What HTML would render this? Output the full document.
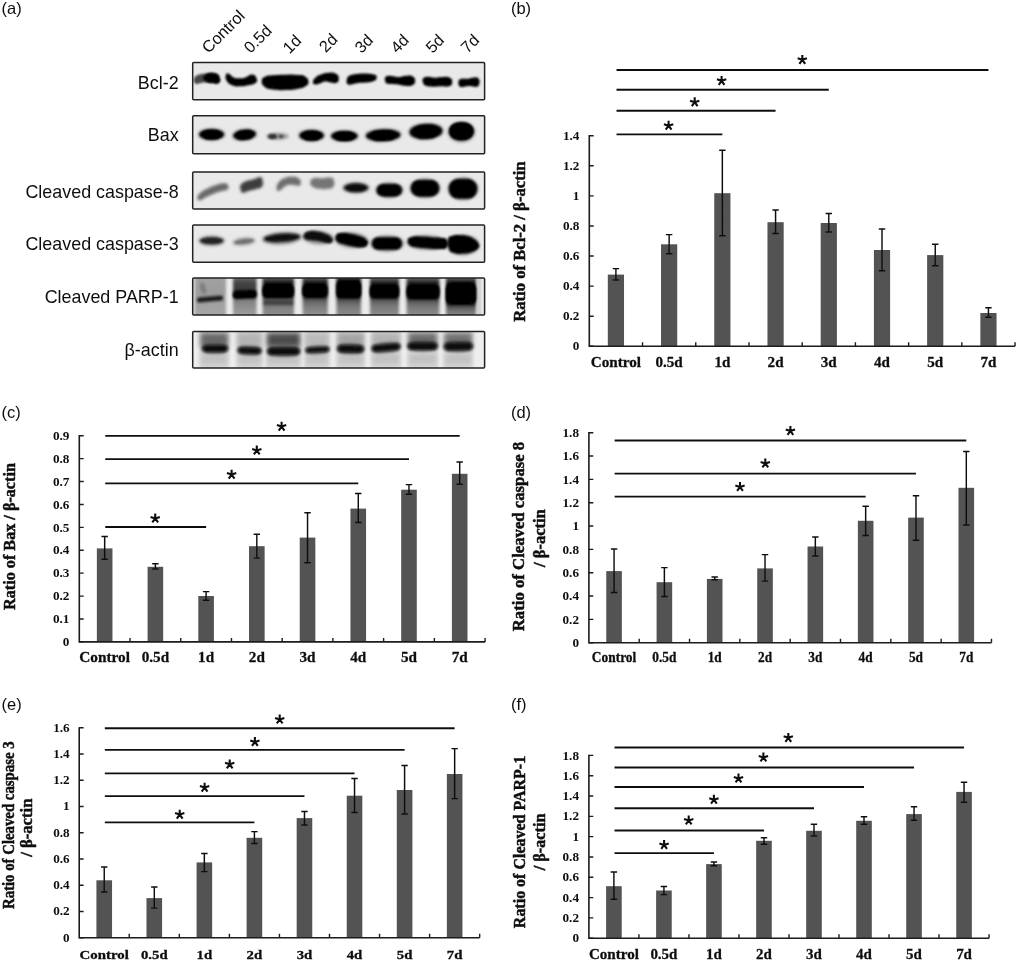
<!DOCTYPE html>
<html><head><meta charset="utf-8"><title>Figure</title>
<style>
html,body{margin:0;padding:0;background:#fff;}
body{width:1018px;height:962px;overflow:hidden;font-family:"Liberation Sans",sans-serif;}
svg{display:block;}
text{fill:#111;}
</style></head><body>
<svg width="1018" height="962" viewBox="0 0 1018 962">
<defs>
<filter id="b1" x="-30%" y="-60%" width="160%" height="220%"><feGaussianBlur stdDeviation="1.1"/></filter>
<filter id="b15" x="-30%" y="-60%" width="160%" height="220%"><feGaussianBlur stdDeviation="1.45"/></filter>
<filter id="b0" x="-30%" y="-60%" width="160%" height="220%"><feGaussianBlur stdDeviation="0.8"/></filter>
<filter id="b2" x="-30%" y="-60%" width="160%" height="220%"><feGaussianBlur stdDeviation="1.8"/></filter>
<filter id="b3" x="-30%" y="-60%" width="160%" height="220%"><feGaussianBlur stdDeviation="2.6"/></filter>
</defs>
<filter id="soft" x="0" y="0" width="100%" height="100%" filterUnits="userSpaceOnUse"><feGaussianBlur stdDeviation="0.4"/></filter>
<rect width="1018" height="962" fill="#fff"/>
<g filter="url(#soft)">

<text x="1.6" y="14.2" font-family="Liberation Sans, sans-serif" font-size="16.5">(a)</text>
<text x="510.9" y="14.2" font-family="Liberation Sans, sans-serif" font-size="16.5">(b)</text>
<text x="1.6" y="418.2" font-family="Liberation Sans, sans-serif" font-size="16.5">(c)</text>
<text x="510.9" y="418.2" font-family="Liberation Sans, sans-serif" font-size="16.5">(d)</text>
<text x="1.6" y="710.4" font-family="Liberation Sans, sans-serif" font-size="16.5">(e)</text>
<text x="510.9" y="710.4" font-family="Liberation Sans, sans-serif" font-size="16.5">(f)</text>
<text x="178.6" y="88.6" text-anchor="end" font-family="Liberation Sans, sans-serif" font-size="17.9">Bcl-2</text>
<text x="178.6" y="140.7" text-anchor="end" font-family="Liberation Sans, sans-serif" font-size="17.9">Bax</text>
<text x="178.6" y="197.6" text-anchor="end" font-family="Liberation Sans, sans-serif" font-size="17.9">Cleaved caspase-8</text>
<text x="178.6" y="249.8" text-anchor="end" font-family="Liberation Sans, sans-serif" font-size="17.9">Cleaved caspase-3</text>
<text x="178.6" y="303.0" text-anchor="end" font-family="Liberation Sans, sans-serif" font-size="17.9">Cleaved PARP-1</text>
<text x="178.6" y="355.9" text-anchor="end" font-family="Liberation Sans, sans-serif" font-size="17.9">β-actin</text>
<text transform="translate(208.6 54.0) rotate(-45)" font-family="Liberation Sans, sans-serif" font-size="16.3">Control</text>
<text transform="translate(250.4 54.0) rotate(-45)" font-family="Liberation Sans, sans-serif" font-size="16.3">0.5d</text>
<text transform="translate(289.6 54.4) rotate(-45)" font-family="Liberation Sans, sans-serif" font-size="16.3">1d</text>
<text transform="translate(325.8 53.2) rotate(-45)" font-family="Liberation Sans, sans-serif" font-size="16.3">2d</text>
<text transform="translate(361.4 53.9) rotate(-45)" font-family="Liberation Sans, sans-serif" font-size="16.3">3d</text>
<text transform="translate(397.2 53.9) rotate(-45)" font-family="Liberation Sans, sans-serif" font-size="16.3">4d</text>
<text transform="translate(432.4 53.9) rotate(-45)" font-family="Liberation Sans, sans-serif" font-size="16.3">5d</text>
<text transform="translate(467.5 53.9) rotate(-45)" font-family="Liberation Sans, sans-serif" font-size="16.3">7d</text>
<rect x="192.7" y="62.6" width="291.90" height="37.20" fill="#e9e9e9"/>
<clipPath id="cp0"><rect x="192.7" y="62.6" width="291.90" height="37.20"/></clipPath><g clip-path="url(#cp0)">
<path d="M195.00 78.40C196.17 75.93 195.83 76.73 199.50 75.40C203.17 74.07 200.97 74.87 206.00 74.40C211.03 73.93 210.47 72.93 214.60 74.00C218.73 75.07 217.27 74.87 218.40 77.60C219.53 80.33 219.63 80.73 218.00 82.20C216.37 83.67 217.00 82.27 213.50 82.00C210.00 81.73 211.73 81.40 207.50 81.40C203.27 81.40 204.63 81.53 200.80 82.00C196.97 82.47 197.93 84.00 196.00 82.80C194.07 81.60 193.83 80.87 195.00 78.40Z" fill="#3c3c3c" stroke="#3c3c3c" stroke-width="1.8" stroke-linejoin="round" opacity="0.95" filter="url(#b1)"/>
<path d="M205.50 75.60C208.20 73.43 210.33 73.63 214.60 74.30C218.87 74.97 217.17 75.03 218.30 77.60C219.43 80.17 219.60 80.53 218.00 82.00C216.40 83.47 217.33 82.40 213.50 82.00C209.67 81.60 209.17 82.93 206.50 80.80C203.83 78.67 202.80 77.77 205.50 75.60Z" fill="#000" stroke="#000" stroke-width="1.8" stroke-linejoin="round" opacity="1" filter="url(#b1)"/>
<path d="M226.60 76.00C226.93 74.00 226.53 73.93 228.60 74.60C230.67 75.27 229.33 76.47 232.80 78.00C236.27 79.53 234.60 79.13 239.00 79.20C243.40 79.27 241.67 79.50 246.00 78.20C250.33 76.90 248.80 75.17 252.00 75.30C255.20 75.43 254.73 76.17 255.60 78.60C256.47 81.03 257.13 80.67 254.60 82.60C252.07 84.53 252.87 83.47 248.00 84.40C243.13 85.33 245.17 85.40 240.00 85.40C234.83 85.40 236.63 86.00 232.50 84.40C228.37 82.80 229.57 83.40 227.60 80.60C225.63 77.80 226.27 78.00 226.60 76.00Z" fill="#000" stroke="#000" stroke-width="1.8" stroke-linejoin="round" opacity="1" filter="url(#b0)"/>
<path d="M262.60 81.00C262.57 78.07 262.37 79.20 265.50 77.60C268.63 76.00 265.50 76.87 272.00 76.20C278.50 75.53 276.33 75.73 285.00 75.60C293.67 75.47 291.47 75.27 298.00 75.80C304.53 76.33 301.40 75.33 304.60 77.20C307.80 79.07 307.47 78.60 307.60 81.40C307.73 84.20 308.53 83.40 305.00 85.60C301.47 87.80 303.67 86.80 297.00 88.00C290.33 89.20 293.00 89.00 285.00 89.20C277.00 89.40 279.47 89.53 273.00 88.60C266.53 87.67 269.07 88.93 265.60 86.40C262.13 83.87 262.63 83.93 262.60 81.00Z" fill="#000" stroke="#000" stroke-width="1.8" stroke-linejoin="round" opacity="1" filter="url(#b0)"/>
<path d="M314.00 81.40C314.33 79.73 313.67 80.40 316.00 78.40C318.33 76.40 316.67 77.00 321.00 75.40C325.33 73.80 324.00 73.80 329.00 73.60C334.00 73.40 333.07 73.13 336.00 74.80C338.93 76.47 337.67 76.20 337.80 78.60C337.93 81.00 338.67 81.00 336.40 82.00C334.13 83.00 334.80 82.07 331.00 81.60C327.20 81.13 328.83 80.27 325.00 80.60C321.17 80.93 322.83 81.67 319.50 82.60C316.17 83.53 316.83 83.80 315.00 83.40C313.17 83.00 313.67 83.07 314.00 81.40Z" fill="#000" stroke="#000" stroke-width="1.8" stroke-linejoin="round" opacity="1" filter="url(#b0)"/>
<path d="M347.60 80.40C348.13 78.20 346.80 78.40 349.60 76.60C352.40 74.80 351.20 75.73 356.00 75.00C360.80 74.27 358.33 74.33 364.00 74.40C369.67 74.47 369.13 74.27 373.00 75.20C376.87 76.13 375.40 75.53 375.60 77.20C375.80 78.87 376.80 78.73 373.60 80.20C370.40 81.67 371.20 81.00 366.00 81.60C360.80 82.20 363.00 81.33 358.00 82.00C353.00 82.67 354.33 83.20 351.00 83.60C347.67 84.00 349.13 84.27 348.00 83.20C346.87 82.13 347.07 82.60 347.60 80.40Z" fill="#000" stroke="#000" stroke-width="1.8" stroke-linejoin="round" opacity="1" filter="url(#b0)"/>
<path d="M386.00 77.80C387.27 76.47 386.00 76.60 390.00 76.60C394.00 76.60 392.67 77.80 398.00 77.80C403.33 77.80 401.33 76.87 406.00 76.60C410.67 76.33 409.27 75.67 412.00 77.00C414.73 78.33 414.20 78.13 414.20 80.60C414.20 83.07 415.07 83.00 412.00 84.40C408.93 85.80 410.33 85.13 405.00 84.80C399.67 84.47 401.67 84.07 396.00 83.40C390.33 82.73 391.27 83.73 388.00 82.80C384.73 81.87 386.87 82.27 386.20 80.60C385.53 78.93 384.73 79.13 386.00 77.80Z" fill="#000" stroke="#000" stroke-width="1.8" stroke-linejoin="round" opacity="1" filter="url(#b0)"/>
<path d="M423.60 79.40C424.60 77.80 423.20 77.87 427.00 77.60C430.80 77.33 429.67 78.53 435.00 78.60C440.33 78.67 438.13 77.80 443.00 77.80C447.87 77.80 446.87 77.20 449.60 78.60C452.33 80.00 451.40 79.73 451.20 82.00C451.00 84.27 452.40 84.27 449.00 85.40C445.60 86.53 446.33 85.27 441.00 85.40C435.67 85.53 438.00 86.00 433.00 85.80C428.00 85.60 429.00 85.93 426.00 84.80C423.00 83.67 424.80 84.20 424.00 82.40C423.20 80.60 422.60 81.00 423.60 79.40Z" fill="#000" stroke="#000" stroke-width="1.8" stroke-linejoin="round" opacity="1" filter="url(#b0)"/>
<path d="M459.40 81.40C460.07 79.40 459.13 80.20 462.00 79.60C464.87 79.00 464.00 80.00 468.00 79.60C472.00 79.20 470.67 78.47 474.00 78.40C477.33 78.33 476.53 77.67 478.00 79.40C479.47 81.13 479.07 81.40 478.40 83.60C477.73 85.80 478.80 85.53 476.00 86.00C473.20 86.47 474.00 85.07 470.00 85.00C466.00 84.93 467.33 85.60 464.00 85.80C460.67 86.00 461.53 87.07 460.00 85.60C458.47 84.13 458.73 83.40 459.40 81.40Z" fill="#000" stroke="#000" stroke-width="1.8" stroke-linejoin="round" opacity="1" filter="url(#b0)"/>
</g>
<rect x="192.7" y="62.6" width="291.90" height="37.20" fill="none" stroke="#222" stroke-width="1.5" rx="1"/>
<rect x="192.7" y="115.7" width="291.90" height="38.10" fill="#e9e9e9"/>
<clipPath id="cp1"><rect x="192.7" y="115.7" width="291.90" height="38.10"/></clipPath><g clip-path="url(#cp1)">
<ellipse cx="211.6" cy="134.4" rx="13.75" ry="6.50" fill="#555" opacity="0.55" filter="url(#b15)" transform="rotate(0 211.6 134.4)"/>
<ellipse cx="211.6" cy="134.4" rx="12.25" ry="5.25" fill="#000" opacity="1" filter="url(#b0)" transform="rotate(0 211.6 134.4)"/>
<rect x="203.03" y="130.60" width="17.15" height="8.4" rx="4.20" fill="#000" opacity="1" filter="url(#b0)" transform="rotate(0 211.6 134.8)"/>
<ellipse cx="244.6" cy="134.8" rx="12.75" ry="6.25" fill="#555" opacity="0.55" filter="url(#b15)" transform="rotate(-6 244.6 134.8)"/>
<ellipse cx="244.6" cy="134.8" rx="11.25" ry="5.00" fill="#000" opacity="1" filter="url(#b0)" transform="rotate(-6 244.6 134.8)"/>
<rect x="236.72" y="131.20" width="15.749999999999998" height="8.0" rx="4.00" fill="#000" opacity="1" filter="url(#b0)" transform="rotate(-6 244.6 135.20000000000002)"/>
<ellipse cx="277.5" cy="136.2" rx="11.50" ry="3.50" fill="#666" opacity="0.6" filter="url(#b15)" transform="rotate(0 277.5 136.2)"/>
<ellipse cx="272.5" cy="136.6" rx="4.50" ry="2.50" fill="#222" opacity="0.9" filter="url(#b0)" transform="rotate(0 272.5 136.6)"/>
<ellipse cx="281.0" cy="136.4" rx="2.50" ry="1.75" fill="#333" opacity="0.8" filter="url(#b0)" transform="rotate(0 281.0 136.4)"/>
<ellipse cx="311.6" cy="135.4" rx="13.50" ry="6.50" fill="#555" opacity="0.55" filter="url(#b15)" transform="rotate(0 311.6 135.4)"/>
<ellipse cx="311.6" cy="135.4" rx="12.00" ry="5.25" fill="#000" opacity="1" filter="url(#b0)" transform="rotate(0 311.6 135.4)"/>
<rect x="303.20" y="131.60" width="16.799999999999997" height="8.4" rx="4.20" fill="#000" opacity="1" filter="url(#b0)" transform="rotate(0 311.6 135.8)"/>
<ellipse cx="344.4" cy="136.0" rx="14.50" ry="6.25" fill="#555" opacity="0.55" filter="url(#b15)" transform="rotate(0 344.4 136.0)"/>
<ellipse cx="344.4" cy="136.0" rx="13.00" ry="5.00" fill="#000" opacity="1" filter="url(#b0)" transform="rotate(0 344.4 136.0)"/>
<rect x="335.30" y="132.40" width="18.2" height="8.0" rx="4.00" fill="#000" opacity="1" filter="url(#b0)" transform="rotate(0 344.4 136.4)"/>
<ellipse cx="383.2" cy="135.2" rx="18.50" ry="7.00" fill="#555" opacity="0.55" filter="url(#b15)" transform="rotate(-2 383.2 135.2)"/>
<ellipse cx="383.2" cy="135.2" rx="17.00" ry="5.75" fill="#000" opacity="1" filter="url(#b0)" transform="rotate(-2 383.2 135.2)"/>
<rect x="371.30" y="131.00" width="23.799999999999997" height="9.200000000000001" rx="4.60" fill="#000" opacity="1" filter="url(#b0)" transform="rotate(-2 383.2 135.6)"/>
<ellipse cx="426.0" cy="131.4" rx="17.75" ry="8.75" fill="#555" opacity="0.55" filter="url(#b15)" transform="rotate(-3 426.0 131.4)"/>
<ellipse cx="426.0" cy="131.4" rx="16.25" ry="7.50" fill="#000" opacity="1" filter="url(#b0)" transform="rotate(-3 426.0 131.4)"/>
<rect x="414.62" y="125.80" width="22.75" height="12.0" rx="6.00" fill="#000" opacity="1" filter="url(#b0)" transform="rotate(-3 426.0 131.8)"/>
<ellipse cx="461.4" cy="132.0" rx="14.00" ry="10.50" fill="#555" opacity="0.5" filter="url(#b15)" transform="rotate(0 461.4 132.0)"/>
<ellipse cx="461.4" cy="131.2" rx="12.50" ry="9.25" fill="#000" opacity="1" filter="url(#b0)" transform="rotate(0 461.4 131.2)"/>
<rect x="450.40" y="123.20" width="22" height="16" rx="7.00" fill="#000" opacity="1" filter="url(#b0)" transform="rotate(0 461.4 131.2)"/>
</g>
<rect x="192.7" y="115.7" width="291.90" height="38.10" fill="none" stroke="#222" stroke-width="1.5" rx="1"/>
<rect x="192.7" y="172.0" width="291.90" height="36.90" fill="#e9e9e9"/>
<clipPath id="cp2"><rect x="192.7" y="172.0" width="291.90" height="36.90"/></clipPath><g clip-path="url(#cp2)">
<path d="M197.80 197.40C198.13 194.93 197.60 195.60 201.00 192.60C204.40 189.60 203.00 190.87 208.00 188.40C213.00 185.93 210.67 186.80 216.00 185.20C221.33 183.60 220.13 183.60 224.00 183.60C227.87 183.60 226.47 183.33 227.60 185.20C228.73 187.07 229.27 187.33 227.40 189.20C225.53 191.07 226.47 189.40 222.00 190.80C217.53 192.20 219.33 191.33 214.00 193.40C208.67 195.47 210.67 194.80 206.00 197.00C201.33 199.20 202.73 199.87 200.00 200.00C197.27 200.13 197.47 199.87 197.80 197.40Z" fill="#4a4a4a" stroke="#4a4a4a" stroke-width="0.4" stroke-linejoin="round" opacity="0.8" filter="url(#b15)"/>
<path d="M241.00 185.20C242.67 182.53 242.00 183.40 246.00 181.60C250.00 179.80 248.33 181.13 253.00 179.80C257.67 178.47 256.93 177.33 260.00 177.60C263.07 177.87 261.67 177.60 262.20 180.60C262.73 183.60 263.67 183.87 261.60 186.60C259.53 189.33 260.20 187.47 256.00 188.80C251.80 190.13 253.33 189.40 249.00 190.60C244.67 191.80 245.67 192.73 243.00 192.40C240.33 192.07 241.67 192.00 241.00 189.60C240.33 187.20 239.33 187.87 241.00 185.20Z" fill="#2a2a2a" stroke="#2a2a2a" stroke-width="0.6" stroke-linejoin="round" opacity="0.9" filter="url(#b15)"/>
<path d="M277.00 187.00C277.53 184.00 276.93 184.53 279.60 181.60C282.27 178.67 280.87 179.73 285.00 178.20C289.13 176.67 287.53 176.93 292.00 177.00C296.47 177.07 295.60 176.60 298.40 178.40C301.20 180.20 300.33 180.07 300.40 182.40C300.47 184.73 301.40 184.67 298.60 185.40C295.80 186.13 296.20 184.53 292.00 184.60C287.80 184.67 289.47 184.13 286.00 185.60C282.53 187.07 284.27 187.33 281.60 189.00C278.93 190.67 279.53 191.27 278.00 190.60C276.47 189.93 276.47 190.00 277.00 187.00Z" fill="#505050" stroke="#505050" stroke-width="0.6" stroke-linejoin="round" opacity="0.8" filter="url(#b15)"/>
<path d="M310.80 181.60C311.67 179.60 309.87 179.67 313.60 178.60C317.33 177.53 316.20 178.60 322.00 178.40C327.80 178.20 327.13 177.13 331.00 178.00C334.87 178.87 332.93 178.13 333.60 181.00C334.27 183.87 334.87 184.07 333.00 186.60C331.13 189.13 332.33 187.93 328.00 188.60C323.67 189.27 324.80 189.13 320.00 188.60C315.20 188.07 316.60 188.33 313.60 187.00C310.60 185.67 311.93 186.40 311.00 184.60C310.07 182.80 309.93 183.60 310.80 181.60Z" fill="#585858" stroke="#585858" stroke-width="0.6" stroke-linejoin="round" opacity="0.8" filter="url(#b15)"/>
<ellipse cx="356.0" cy="187.8" rx="13.50" ry="5.75" fill="#444" opacity="0.7" filter="url(#b15)" transform="rotate(0 356.0 187.8)"/>
<ellipse cx="356.0" cy="187.8" rx="11.50" ry="4.00" fill="#0c0c0c" opacity="1" filter="url(#b1)" transform="rotate(0 356.0 187.8)"/>
<ellipse cx="389.3" cy="190.2" rx="14.00" ry="8.00" fill="#444" opacity="0.6" filter="url(#b15)" transform="rotate(0 389.3 190.2)"/>
<rect x="376.80" y="183.95" width="25" height="12.5" rx="6.25" fill="#000" opacity="1" filter="url(#b1)" transform="rotate(0 389.3 190.2)"/>
<ellipse cx="425.0" cy="188.2" rx="15.50" ry="10.00" fill="#444" opacity="0.6" filter="url(#b15)" transform="rotate(0 425.0 188.2)"/>
<rect x="411.00" y="179.95" width="28" height="16.5" rx="8.00" fill="#000" opacity="1" filter="url(#b1)" transform="rotate(0 425.0 188.2)"/>
<ellipse cx="463.0" cy="188.8" rx="15.50" ry="11.50" fill="#444" opacity="0.6" filter="url(#b15)" transform="rotate(0 463.0 188.8)"/>
<rect x="449.00" y="179.05" width="28" height="19.5" rx="9.00" fill="#000" opacity="1" filter="url(#b1)" transform="rotate(0 463.0 188.8)"/>
</g>
<rect x="192.7" y="172.0" width="291.90" height="36.90" fill="none" stroke="#222" stroke-width="1.5" rx="1"/>
<rect x="192.7" y="225.0" width="291.90" height="37.20" fill="#e9e9e9"/>
<clipPath id="cp3"><rect x="192.7" y="225.0" width="291.90" height="37.20"/></clipPath><g clip-path="url(#cp3)">
<ellipse cx="211.7" cy="240.8" rx="13.50" ry="5.50" fill="#666" opacity="0.55" filter="url(#b2)" transform="rotate(0 211.7 240.8)"/>
<ellipse cx="244.0" cy="241.6" rx="12.00" ry="4.50" fill="#888" opacity="0.5" filter="url(#b2)" transform="rotate(-6 244.0 241.6)"/>
<ellipse cx="282.0" cy="238.2" rx="20.00" ry="6.50" fill="#555" opacity="0.6" filter="url(#b2)" transform="rotate(-4 282.0 238.2)"/>
<ellipse cx="318.0" cy="237.6" rx="16.00" ry="7.00" fill="#555" opacity="0.6" filter="url(#b2)" transform="rotate(5 318.0 237.6)"/>
<ellipse cx="351.5" cy="240.2" rx="17.00" ry="8.00" fill="#555" opacity="0.6" filter="url(#b2)" transform="rotate(5 351.5 240.2)"/>
<ellipse cx="387.0" cy="243.4" rx="17.00" ry="8.50" fill="#555" opacity="0.55" filter="url(#b2)" transform="rotate(0 387.0 243.4)"/>
<ellipse cx="426.8" cy="242.6" rx="20.50" ry="7.50" fill="#555" opacity="0.55" filter="url(#b2)" transform="rotate(2 426.8 242.6)"/>
<ellipse cx="462.8" cy="245.0" rx="16.50" ry="10.50" fill="#555" opacity="0.5" filter="url(#b2)" transform="rotate(0 462.8 245.0)"/>
<ellipse cx="211.7" cy="240.8" rx="11.75" ry="3.50" fill="#1a1a1a" opacity="0.95" filter="url(#b1)" transform="rotate(0 211.7 240.8)"/>
<ellipse cx="244.0" cy="241.4" rx="10.00" ry="2.50" fill="#555" opacity="0.75" filter="url(#b1)" transform="rotate(-7 244.0 241.4)"/>
<ellipse cx="282.0" cy="237.8" rx="18.00" ry="4.00" fill="#111" opacity="0.97" filter="url(#b1)" transform="rotate(-4 282.0 237.8)"/>
<path d="M305.00 234.60C306.00 232.40 305.33 232.87 309.00 232.00C312.67 231.13 311.00 231.33 316.00 232.00C321.00 232.67 319.13 232.13 324.00 234.00C328.87 235.87 328.07 235.13 330.60 237.60C333.13 240.07 332.47 239.80 331.60 241.40C330.73 243.00 331.87 242.67 328.00 242.40C324.13 242.13 325.33 241.53 320.00 240.60C314.67 239.67 316.67 240.27 312.00 239.60C307.33 238.93 308.33 240.27 306.00 238.60C303.67 236.93 304.00 236.80 305.00 234.60Z" fill="#080808" stroke="#080808" stroke-width="1.2" stroke-linejoin="round" opacity="1" filter="url(#b1)"/>
<path d="M336.60 236.00C337.60 233.40 336.53 234.13 341.00 233.60C345.47 233.07 344.00 233.40 350.00 234.40C356.00 235.40 353.80 234.73 359.00 236.60C364.20 238.47 363.07 237.33 365.60 240.00C368.13 242.67 367.80 242.33 366.60 244.60C365.40 246.87 366.53 246.40 362.00 246.80C357.47 247.20 359.00 246.87 353.00 245.80C347.00 244.73 349.00 245.07 344.00 243.60C339.00 242.13 340.47 243.93 338.00 241.40C335.53 238.87 335.60 238.60 336.60 236.00Z" fill="#040404" stroke="#040404" stroke-width="1.2" stroke-linejoin="round" opacity="1" filter="url(#b1)"/>
<rect x="372.00" y="237.15" width="30" height="12.5" rx="6.00" fill="#000" opacity="1" filter="url(#b1)" transform="rotate(0 387.0 243.4)"/>
<path d="M408.60 240.80C408.93 238.53 407.20 239.07 411.00 237.80C414.80 236.53 413.00 236.93 420.00 237.00C427.00 237.07 424.67 237.47 432.00 238.00C439.33 238.53 437.20 237.73 442.00 238.60C446.80 239.47 445.07 237.80 446.40 240.60C447.73 243.40 448.13 244.40 446.00 247.00C443.87 249.60 446.00 248.13 440.00 248.40C434.00 248.67 436.00 248.40 428.00 247.80C420.00 247.20 422.00 247.67 416.00 246.60C410.00 245.53 412.47 246.53 410.00 244.60C407.53 242.67 408.27 243.07 408.60 240.80Z" fill="#000" stroke="#000" stroke-width="1.2" stroke-linejoin="round" opacity="1" filter="url(#b1)"/>
<path d="M448.60 240.00C449.40 236.00 448.20 238.00 452.00 236.60C455.80 235.20 454.67 235.73 460.00 235.80C465.33 235.87 463.33 235.47 468.00 236.80C472.67 238.13 470.67 237.40 474.00 239.80C477.33 242.20 476.80 241.27 478.00 244.00C479.20 246.73 479.60 245.53 477.60 248.00C475.60 250.47 476.87 249.73 472.00 251.40C467.13 253.07 469.00 252.73 463.00 253.00C457.00 253.27 458.47 253.67 454.00 252.20C449.53 250.73 451.40 252.67 449.60 248.60C447.80 244.53 447.80 244.00 448.60 240.00Z" fill="#000" stroke="#000" stroke-width="1.2" stroke-linejoin="round" opacity="1" filter="url(#b1)"/>
<path d="M447.6 236V252" stroke="#f4f4f4" stroke-width="0.9" opacity="0.85" filter="url(#b0)"/>
</g>
<rect x="192.7" y="225.0" width="291.90" height="37.20" fill="none" stroke="#222" stroke-width="1.5" rx="1"/>
<rect x="192.7" y="278.0" width="291.90" height="36.90" fill="#ebebeb"/>
<clipPath id="cp4"><rect x="192.7" y="278.0" width="291.90" height="36.90"/></clipPath><g clip-path="url(#cp4)">
<linearGradient id="l50" x1="0" y1="0" x2="0" y2="1"><stop offset="0" stop-color="#a2a2a2"/><stop offset="0.5" stop-color="#9c9c9c"/><stop offset="1" stop-color="#a8a8a8"/></linearGradient>
<rect x="194.5" y="274" width="31.5" height="45" fill="url(#l50)" filter="url(#b15)"/>
<ellipse cx="203.0" cy="288.0" rx="2.50" ry="6.00" fill="#555" opacity="0.5" filter="url(#b15)" transform="rotate(-15 203.0 288.0)"/>
<linearGradient id="l51" x1="0" y1="0" x2="0" y2="1"><stop offset="0.067" stop-color="#7a7a7a"/><stop offset="0.156" stop-color="#4a4a4a"/><stop offset="0.333" stop-color="#3a3a3a"/><stop offset="0.400" stop-color="#111"/><stop offset="0.511" stop-color="#111"/><stop offset="0.578" stop-color="#808080"/><stop offset="0.933" stop-color="#a0a0a0"/></linearGradient>
<rect x="233.0" y="274.0" width="23.60" height="45.0" fill="url(#l51)" filter="url(#b15)"/>
<linearGradient id="l52" x1="0" y1="0" x2="0" y2="1"><stop offset="0.067" stop-color="#777"/><stop offset="0.133" stop-color="#333"/><stop offset="0.222" stop-color="#0a0a0a"/><stop offset="0.522" stop-color="#080808"/><stop offset="0.567" stop-color="#666"/><stop offset="0.611" stop-color="#3a3a3a"/><stop offset="0.678" stop-color="#444"/><stop offset="0.722" stop-color="#808080"/><stop offset="0.933" stop-color="#8e8e8e"/></linearGradient>
<rect x="262.6" y="274.0" width="31.40" height="45.0" fill="url(#l52)" filter="url(#b15)"/>
<linearGradient id="l53" x1="0" y1="0" x2="0" y2="1"><stop offset="0.067" stop-color="#777"/><stop offset="0.133" stop-color="#333"/><stop offset="0.222" stop-color="#0a0a0a"/><stop offset="0.511" stop-color="#0a0a0a"/><stop offset="0.578" stop-color="#5c5c5c"/><stop offset="0.711" stop-color="#7a7a7a"/><stop offset="0.933" stop-color="#949494"/></linearGradient>
<rect x="302.6" y="274.0" width="25.20" height="45.0" fill="url(#l53)" filter="url(#b15)"/>
<linearGradient id="l54" x1="0" y1="0" x2="0" y2="1"><stop offset="0.067" stop-color="#555"/><stop offset="0.122" stop-color="#111"/><stop offset="0.178" stop-color="#000"/><stop offset="0.522" stop-color="#050505"/><stop offset="0.589" stop-color="#555"/><stop offset="0.711" stop-color="#777"/><stop offset="0.933" stop-color="#8e8e8e"/></linearGradient>
<rect x="336.4" y="274.0" width="24.60" height="45.0" fill="url(#l54)" filter="url(#b15)"/>
<linearGradient id="l55" x1="0" y1="0" x2="0" y2="1"><stop offset="0.067" stop-color="#777"/><stop offset="0.156" stop-color="#333"/><stop offset="0.244" stop-color="#080808"/><stop offset="0.522" stop-color="#080808"/><stop offset="0.589" stop-color="#5a5a5a"/><stop offset="0.711" stop-color="#787878"/><stop offset="0.933" stop-color="#8e8e8e"/></linearGradient>
<rect x="370.0" y="274.0" width="29.00" height="45.0" fill="url(#l55)" filter="url(#b15)"/>
<linearGradient id="l56" x1="0" y1="0" x2="0" y2="1"><stop offset="0.067" stop-color="#777"/><stop offset="0.156" stop-color="#333"/><stop offset="0.244" stop-color="#080808"/><stop offset="0.544" stop-color="#080808"/><stop offset="0.611" stop-color="#5a5a5a"/><stop offset="0.733" stop-color="#787878"/><stop offset="0.933" stop-color="#8e8e8e"/></linearGradient>
<rect x="406.6" y="274.0" width="32.80" height="45.0" fill="url(#l56)" filter="url(#b15)"/>
<linearGradient id="l57" x1="0" y1="0" x2="0" y2="1"><stop offset="0.067" stop-color="#777"/><stop offset="0.133" stop-color="#333"/><stop offset="0.211" stop-color="#050505"/><stop offset="0.667" stop-color="#050505"/><stop offset="0.733" stop-color="#555"/><stop offset="0.822" stop-color="#747474"/><stop offset="0.933" stop-color="#888"/></linearGradient>
<rect x="446.0" y="274.0" width="30.00" height="45.0" fill="url(#l57)" filter="url(#b15)"/>
<rect x="477" y="276" width="4" height="42" fill="#bbb" opacity="0.6" filter="url(#b15)"/>
<rect x="197.00" y="296.40" width="26" height="5.2" rx="2.60" fill="#151515" opacity="0.95" filter="url(#b1)" transform="rotate(-5 210.0 299.0)"/>
<rect x="233.05" y="290.65" width="23.5" height="7.5" rx="3.75" fill="#000" opacity="1" filter="url(#b1)" transform="rotate(-3 244.8 294.4)"/>
<rect x="262.45" y="284.25" width="31.5" height="13.5" rx="5.00" fill="#000" opacity="1" filter="url(#b1)" transform="rotate(0 278.2 291.0)"/>
<rect x="302.25" y="284.05" width="25.5" height="13.5" rx="5.00" fill="#000" opacity="1" filter="url(#b1)" transform="rotate(0 315.0 290.8)"/>
<rect x="336.30" y="281.10" width="25" height="17" rx="5.00" fill="#000" opacity="1" filter="url(#b1)" transform="rotate(0 348.8 289.6)"/>
<rect x="369.65" y="284.65" width="29.5" height="13.5" rx="5.00" fill="#000" opacity="1" filter="url(#b1)" transform="rotate(0 384.4 291.4)"/>
<rect x="406.50" y="284.80" width="33" height="14" rx="5.00" fill="#000" opacity="1" filter="url(#b1)" transform="rotate(0 423.0 291.8)"/>
<rect x="445.75" y="283.30" width="30.5" height="21" rx="6.00" fill="#000" opacity="1" filter="url(#b1)" transform="rotate(0 461.0 293.8)"/>
</g>
<rect x="192.7" y="278.0" width="291.90" height="36.90" fill="none" stroke="#222" stroke-width="1.5" rx="1"/>
<rect x="192.7" y="331.6" width="291.90" height="36.30" fill="#eeeeee"/>
<clipPath id="cp5"><rect x="192.7" y="331.6" width="291.90" height="36.30"/></clipPath><g clip-path="url(#cp5)">
<rect x="199.5" y="329" width="29.50" height="42" fill="#d2d2d2" opacity="0.85" filter="url(#b2)"/>
<rect x="200.5" y="333" width="27.50" height="14" fill="#5c5c5c" opacity="0.9" filter="url(#b3)"/>
<rect x="201.5" y="354" width="25.50" height="10" fill="#b0b0b0" opacity="0.55" filter="url(#b3)"/>
<rect x="236.5" y="329" width="26.00" height="42" fill="#d2d2d2" opacity="0.85" filter="url(#b2)"/>
<rect x="237.5" y="333" width="24.00" height="14" fill="#a8a8a8" opacity="0.75" filter="url(#b3)"/>
<rect x="238.5" y="354" width="22.00" height="10" fill="#b0b0b0" opacity="0.55" filter="url(#b3)"/>
<rect x="266.0" y="329" width="35.00" height="42" fill="#d2d2d2" opacity="0.85" filter="url(#b2)"/>
<rect x="267.0" y="333" width="33.00" height="14" fill="#444444" opacity="0.95" filter="url(#b3)"/>
<rect x="268.0" y="354" width="31.00" height="10" fill="#b0b0b0" opacity="0.55" filter="url(#b3)"/>
<rect x="304.5" y="329" width="25.00" height="42" fill="#d2d2d2" opacity="0.85" filter="url(#b2)"/>
<rect x="305.5" y="333" width="23.00" height="14" fill="#b0b0b0" opacity="0.75" filter="url(#b3)"/>
<rect x="306.5" y="354" width="21.00" height="10" fill="#b0b0b0" opacity="0.55" filter="url(#b3)"/>
<rect x="336.5" y="329" width="28.50" height="42" fill="#d2d2d2" opacity="0.85" filter="url(#b2)"/>
<rect x="337.5" y="333" width="26.50" height="14" fill="#989898" opacity="0.8" filter="url(#b3)"/>
<rect x="338.5" y="354" width="24.50" height="10" fill="#b0b0b0" opacity="0.55" filter="url(#b3)"/>
<rect x="371.0" y="329" width="30.00" height="42" fill="#d2d2d2" opacity="0.85" filter="url(#b2)"/>
<rect x="372.0" y="333" width="28.00" height="14" fill="#a8a8a8" opacity="0.75" filter="url(#b3)"/>
<rect x="373.0" y="354" width="26.00" height="10" fill="#b0b0b0" opacity="0.55" filter="url(#b3)"/>
<rect x="407.5" y="329" width="30.50" height="42" fill="#d2d2d2" opacity="0.85" filter="url(#b2)"/>
<rect x="408.5" y="333" width="28.50" height="14" fill="#606060" opacity="0.9" filter="url(#b3)"/>
<rect x="409.5" y="354" width="26.50" height="10" fill="#b0b0b0" opacity="0.55" filter="url(#b3)"/>
<rect x="443.5" y="329" width="29.50" height="42" fill="#d2d2d2" opacity="0.85" filter="url(#b2)"/>
<rect x="444.5" y="333" width="27.50" height="14" fill="#686868" opacity="0.9" filter="url(#b3)"/>
<rect x="445.5" y="354" width="25.50" height="10" fill="#b0b0b0" opacity="0.55" filter="url(#b3)"/>
<ellipse cx="215.0" cy="348.6" rx="14.00" ry="5.50" fill="#444" opacity="0.55" filter="url(#b2)" transform="rotate(0 215.0 348.6)"/>
<rect x="202.50" y="344.90" width="25" height="7.4" rx="3.70" fill="#080808" opacity="1" filter="url(#b15)" transform="rotate(0 215.0 348.6)"/>
<ellipse cx="249.6" cy="350.6" rx="13.00" ry="5.10" fill="#444" opacity="0.55" filter="url(#b2)" transform="rotate(2 249.6 350.6)"/>
<rect x="238.10" y="347.30" width="23" height="6.6000000000000005" rx="3.30" fill="#080808" opacity="1" filter="url(#b15)" transform="rotate(2 249.6 350.6)"/>
<ellipse cx="283.6" cy="351.2" rx="17.50" ry="5.80" fill="#444" opacity="0.55" filter="url(#b2)" transform="rotate(0 283.6 351.2)"/>
<rect x="267.60" y="347.20" width="32" height="8.0" rx="4.00" fill="#080808" opacity="1" filter="url(#b15)" transform="rotate(0 283.6 351.2)"/>
<ellipse cx="317.4" cy="349.8" rx="13.00" ry="4.60" fill="#444" opacity="0.55" filter="url(#b2)" transform="rotate(-3 317.4 349.8)"/>
<rect x="305.90" y="347.00" width="23" height="5.6000000000000005" rx="2.80" fill="#080808" opacity="1" filter="url(#b15)" transform="rotate(-3 317.4 349.8)"/>
<ellipse cx="350.6" cy="348.8" rx="14.50" ry="5.70" fill="#444" opacity="0.55" filter="url(#b2)" transform="rotate(1 350.6 348.8)"/>
<rect x="337.60" y="344.90" width="26" height="7.800000000000001" rx="3.90" fill="#080808" opacity="1" filter="url(#b15)" transform="rotate(1 350.6 348.8)"/>
<ellipse cx="386.0" cy="347.6" rx="15.50" ry="5.50" fill="#444" opacity="0.55" filter="url(#b2)" transform="rotate(-5 386.0 347.6)"/>
<rect x="372.00" y="343.90" width="28" height="7.4" rx="3.70" fill="#080808" opacity="1" filter="url(#b15)" transform="rotate(-5 386.0 347.6)"/>
<ellipse cx="422.6" cy="346.2" rx="16.00" ry="5.50" fill="#444" opacity="0.55" filter="url(#b2)" transform="rotate(0 422.6 346.2)"/>
<rect x="408.10" y="342.50" width="29" height="7.4" rx="3.70" fill="#080808" opacity="1" filter="url(#b15)" transform="rotate(0 422.6 346.2)"/>
<ellipse cx="458.4" cy="346.6" rx="15.50" ry="5.80" fill="#444" opacity="0.55" filter="url(#b2)" transform="rotate(-1 458.4 346.6)"/>
<rect x="444.40" y="342.60" width="28" height="8.0" rx="4.00" fill="#080808" opacity="1" filter="url(#b15)" transform="rotate(-1 458.4 346.6)"/>
</g>
<rect x="192.7" y="331.6" width="291.90" height="36.30" fill="none" stroke="#222" stroke-width="1.5" rx="1"/>
<rect x="607.81" y="274.60" width="16.2" height="71.70" fill="#525252"/>
<rect x="661.03" y="244.30" width="16.2" height="102.00" fill="#525252"/>
<rect x="714.25" y="193.20" width="16.2" height="153.10" fill="#525252"/>
<rect x="767.47" y="222.20" width="16.2" height="124.10" fill="#525252"/>
<rect x="820.69" y="223.00" width="16.2" height="123.30" fill="#525252"/>
<rect x="873.91" y="250.00" width="16.2" height="96.30" fill="#525252"/>
<rect x="927.13" y="255.10" width="16.2" height="91.20" fill="#525252"/>
<rect x="980.35" y="313.00" width="16.2" height="33.30" fill="#525252"/>
<path d="M589.30 135.10V346.30H1015.06" stroke="#1c1c1c" stroke-width="1.6" fill="none"/>
<text x="572.80" y="350.46" textLength="6.60" lengthAdjust="spacingAndGlyphs" font-family="Liberation Serif, serif" font-weight="bold" font-size="13.2">0</text>
<text x="562.90" y="320.38" textLength="16.50" lengthAdjust="spacingAndGlyphs" font-family="Liberation Serif, serif" font-weight="bold" font-size="13.2">0.2</text>
<text x="562.90" y="290.29" textLength="16.50" lengthAdjust="spacingAndGlyphs" font-family="Liberation Serif, serif" font-weight="bold" font-size="13.2">0.4</text>
<text x="562.90" y="260.20" textLength="16.50" lengthAdjust="spacingAndGlyphs" font-family="Liberation Serif, serif" font-weight="bold" font-size="13.2">0.6</text>
<text x="562.90" y="230.12" textLength="16.50" lengthAdjust="spacingAndGlyphs" font-family="Liberation Serif, serif" font-weight="bold" font-size="13.2">0.8</text>
<text x="572.80" y="200.03" textLength="6.60" lengthAdjust="spacingAndGlyphs" font-family="Liberation Serif, serif" font-weight="bold" font-size="13.2">1</text>
<text x="562.90" y="169.95" textLength="16.50" lengthAdjust="spacingAndGlyphs" font-family="Liberation Serif, serif" font-weight="bold" font-size="13.2">1.2</text>
<text x="562.90" y="139.86" textLength="16.50" lengthAdjust="spacingAndGlyphs" font-family="Liberation Serif, serif" font-weight="bold" font-size="13.2">1.4</text>
<path d="M589.30 346.30H593.70M589.30 316.21H593.70M589.30 286.13H593.70M589.30 256.04H593.70M589.30 225.96H593.70M589.30 195.87H593.70M589.30 165.79H593.70M589.30 135.70H593.70M642.52 346.30V342.30M695.74 346.30V342.30M748.96 346.30V342.30M802.18 346.30V342.30M855.40 346.30V342.30M908.62 346.30V342.30M961.84 346.30V342.30M1015.06 346.30V342.30" stroke="#1c1c1c" stroke-width="1.4" fill="none"/>
<path d="M615.91 268.60V280.00M612.71 268.60H619.11M612.71 280.00H619.11M669.13 234.60V253.80M665.93 234.60H672.33M665.93 253.80H672.33M722.35 150.30V235.70M719.15 150.30H725.55M719.15 235.70H725.55M775.57 210.00V233.50M772.37 210.00H778.77M772.37 233.50H778.77M828.79 213.50V231.90M825.59 213.50H831.99M825.59 231.90H831.99M882.01 228.90V270.80M878.81 228.90H885.21M878.81 270.80H885.21M935.23 244.30V265.70M932.03 244.30H938.43M932.03 265.70H938.43M988.45 307.80V317.30M985.25 307.80H991.65M985.25 317.30H991.65" stroke="#111" stroke-width="1.45" fill="none"/>
<text x="590.75" y="367.20" textLength="50.33" lengthAdjust="spacingAndGlyphs" font-family="Liberation Serif, serif" font-weight="bold" font-size="15.1" stroke="#111" stroke-width="0.3" stroke-linejoin="round">Control</text>
<text x="655.49" y="367.20" textLength="27.27" lengthAdjust="spacingAndGlyphs" font-family="Liberation Serif, serif" font-weight="bold" font-size="15.1" stroke="#111" stroke-width="0.3" stroke-linejoin="round">0.5d</text>
<text x="714.38" y="367.20" textLength="15.95" lengthAdjust="spacingAndGlyphs" font-family="Liberation Serif, serif" font-weight="bold" font-size="15.1" stroke="#111" stroke-width="0.3" stroke-linejoin="round">1d</text>
<text x="767.60" y="367.20" textLength="15.95" lengthAdjust="spacingAndGlyphs" font-family="Liberation Serif, serif" font-weight="bold" font-size="15.1" stroke="#111" stroke-width="0.3" stroke-linejoin="round">2d</text>
<text x="820.82" y="367.20" textLength="15.95" lengthAdjust="spacingAndGlyphs" font-family="Liberation Serif, serif" font-weight="bold" font-size="15.1" stroke="#111" stroke-width="0.3" stroke-linejoin="round">3d</text>
<text x="874.04" y="367.20" textLength="15.95" lengthAdjust="spacingAndGlyphs" font-family="Liberation Serif, serif" font-weight="bold" font-size="15.1" stroke="#111" stroke-width="0.3" stroke-linejoin="round">4d</text>
<text x="927.26" y="367.20" textLength="15.95" lengthAdjust="spacingAndGlyphs" font-family="Liberation Serif, serif" font-weight="bold" font-size="15.1" stroke="#111" stroke-width="0.3" stroke-linejoin="round">5d</text>
<text x="980.48" y="367.20" textLength="15.95" lengthAdjust="spacingAndGlyphs" font-family="Liberation Serif, serif" font-weight="bold" font-size="15.1" stroke="#111" stroke-width="0.3" stroke-linejoin="round">7d</text>
<path d="M616.51 69.95H988.45" stroke="#111" stroke-width="1.85" fill="none"/>
<path d="M802.30 59.80L802.30 54.90M802.30 59.80L797.64 58.29M802.30 59.80L799.42 63.76M802.30 59.80L805.18 63.76M802.30 59.80L806.96 58.29" stroke="#111" stroke-width="2.1" stroke-linecap="butt" fill="none"/>
<path d="M616.51 89.75H828.79" stroke="#111" stroke-width="1.85" fill="none"/>
<path d="M721.60 80.80L721.60 75.90M721.60 80.80L716.94 79.29M721.60 80.80L718.72 84.76M721.60 80.80L724.48 84.76M721.60 80.80L726.26 79.29" stroke="#111" stroke-width="2.1" stroke-linecap="butt" fill="none"/>
<path d="M616.51 110.75H775.57" stroke="#111" stroke-width="1.85" fill="none"/>
<path d="M694.70 102.20L694.70 97.30M694.70 102.20L690.04 100.69M694.70 102.20L691.82 106.16M694.70 102.20L697.58 106.16M694.70 102.20L699.36 100.69" stroke="#111" stroke-width="2.1" stroke-linecap="butt" fill="none"/>
<path d="M616.51 134.35H722.35" stroke="#111" stroke-width="1.85" fill="none"/>
<path d="M668.60 125.70L668.60 120.80M668.60 125.70L663.94 124.19M668.60 125.70L665.72 129.66M668.60 125.70L671.48 129.66M668.60 125.70L673.26 124.19" stroke="#111" stroke-width="2.1" stroke-linecap="butt" fill="none"/>
<text transform="translate(525.00 321.75) rotate(-90)" textLength="160.30" lengthAdjust="spacingAndGlyphs" font-family="Liberation Serif, serif" font-weight="bold" font-size="17.4" stroke="#111" stroke-width="0.5" stroke-linejoin="round">Ratio of Bcl-2 / β-actin</text>
<rect x="96.86" y="548.40" width="15.6" height="93.50" fill="#525252"/>
<rect x="147.58" y="566.80" width="15.6" height="75.10" fill="#525252"/>
<rect x="198.30" y="596.00" width="15.6" height="45.90" fill="#525252"/>
<rect x="249.02" y="546.20" width="15.6" height="95.70" fill="#525252"/>
<rect x="299.74" y="537.60" width="15.6" height="104.30" fill="#525252"/>
<rect x="350.46" y="508.60" width="15.6" height="133.30" fill="#525252"/>
<rect x="401.18" y="489.70" width="15.6" height="152.20" fill="#525252"/>
<rect x="451.90" y="473.80" width="15.6" height="168.10" fill="#525252"/>
<path d="M79.30 435.10V641.90H485.06" stroke="#1c1c1c" stroke-width="1.6" fill="none"/>
<text x="62.80" y="646.06" textLength="6.60" lengthAdjust="spacingAndGlyphs" font-family="Liberation Serif, serif" font-weight="bold" font-size="13.2">0</text>
<text x="52.90" y="623.15" textLength="16.50" lengthAdjust="spacingAndGlyphs" font-family="Liberation Serif, serif" font-weight="bold" font-size="13.2">0.1</text>
<text x="52.90" y="600.24" textLength="16.50" lengthAdjust="spacingAndGlyphs" font-family="Liberation Serif, serif" font-weight="bold" font-size="13.2">0.2</text>
<text x="52.90" y="577.33" textLength="16.50" lengthAdjust="spacingAndGlyphs" font-family="Liberation Serif, serif" font-weight="bold" font-size="13.2">0.3</text>
<text x="52.90" y="554.42" textLength="16.50" lengthAdjust="spacingAndGlyphs" font-family="Liberation Serif, serif" font-weight="bold" font-size="13.2">0.4</text>
<text x="52.90" y="531.51" textLength="16.50" lengthAdjust="spacingAndGlyphs" font-family="Liberation Serif, serif" font-weight="bold" font-size="13.2">0.5</text>
<text x="52.90" y="508.59" textLength="16.50" lengthAdjust="spacingAndGlyphs" font-family="Liberation Serif, serif" font-weight="bold" font-size="13.2">0.6</text>
<text x="52.90" y="485.68" textLength="16.50" lengthAdjust="spacingAndGlyphs" font-family="Liberation Serif, serif" font-weight="bold" font-size="13.2">0.7</text>
<text x="52.90" y="462.77" textLength="16.50" lengthAdjust="spacingAndGlyphs" font-family="Liberation Serif, serif" font-weight="bold" font-size="13.2">0.8</text>
<text x="52.90" y="439.86" textLength="16.50" lengthAdjust="spacingAndGlyphs" font-family="Liberation Serif, serif" font-weight="bold" font-size="13.2">0.9</text>
<path d="M79.30 641.90H83.70M79.30 618.99H83.70M79.30 596.08H83.70M79.30 573.17H83.70M79.30 550.26H83.70M79.30 527.34H83.70M79.30 504.43H83.70M79.30 481.52H83.70M79.30 458.61H83.70M79.30 435.70H83.70M130.02 641.90V637.90M180.74 641.90V637.90M231.46 641.90V637.90M282.18 641.90V637.90M332.90 641.90V637.90M383.62 641.90V637.90M434.34 641.90V637.90M485.06 641.90V637.90" stroke="#1c1c1c" stroke-width="1.4" fill="none"/>
<path d="M104.66 536.50V559.20M101.46 536.50H107.86M101.46 559.20H107.86M155.38 563.80V568.90M152.18 563.80H158.58M152.18 568.90H158.58M206.10 591.60V600.30M202.90 591.60H209.30M202.90 600.30H209.30M256.82 534.30V558.10M253.62 534.30H260.02M253.62 558.10H260.02M307.54 512.70V562.70M304.34 512.70H310.74M304.34 562.70H310.74M358.26 493.50V522.40M355.06 493.50H361.46M355.06 522.40H361.46M408.98 484.60V494.30M405.78 484.60H412.18M405.78 494.30H412.18M459.70 461.90V484.30M456.50 461.90H462.90M456.50 484.30H462.90" stroke="#111" stroke-width="1.45" fill="none"/>
<text x="79.33" y="662.30" textLength="50.66" lengthAdjust="spacingAndGlyphs" font-family="Liberation Serif, serif" font-weight="bold" font-size="15.2" stroke="#111" stroke-width="0.3" stroke-linejoin="round">Control</text>
<text x="141.65" y="662.30" textLength="27.45" lengthAdjust="spacingAndGlyphs" font-family="Liberation Serif, serif" font-weight="bold" font-size="15.2" stroke="#111" stroke-width="0.3" stroke-linejoin="round">0.5d</text>
<text x="198.07" y="662.30" textLength="16.05" lengthAdjust="spacingAndGlyphs" font-family="Liberation Serif, serif" font-weight="bold" font-size="15.2" stroke="#111" stroke-width="0.3" stroke-linejoin="round">1d</text>
<text x="248.79" y="662.30" textLength="16.05" lengthAdjust="spacingAndGlyphs" font-family="Liberation Serif, serif" font-weight="bold" font-size="15.2" stroke="#111" stroke-width="0.3" stroke-linejoin="round">2d</text>
<text x="299.51" y="662.30" textLength="16.05" lengthAdjust="spacingAndGlyphs" font-family="Liberation Serif, serif" font-weight="bold" font-size="15.2" stroke="#111" stroke-width="0.3" stroke-linejoin="round">3d</text>
<text x="350.23" y="662.30" textLength="16.05" lengthAdjust="spacingAndGlyphs" font-family="Liberation Serif, serif" font-weight="bold" font-size="15.2" stroke="#111" stroke-width="0.3" stroke-linejoin="round">4d</text>
<text x="400.95" y="662.30" textLength="16.05" lengthAdjust="spacingAndGlyphs" font-family="Liberation Serif, serif" font-weight="bold" font-size="15.2" stroke="#111" stroke-width="0.3" stroke-linejoin="round">5d</text>
<text x="451.67" y="662.30" textLength="16.05" lengthAdjust="spacingAndGlyphs" font-family="Liberation Serif, serif" font-weight="bold" font-size="15.2" stroke="#111" stroke-width="0.3" stroke-linejoin="round">7d</text>
<path d="M105.26 435.85H459.70" stroke="#111" stroke-width="1.85" fill="none"/>
<path d="M281.60 426.60L281.60 421.70M281.60 426.60L276.94 425.09M281.60 426.60L278.72 430.56M281.60 426.60L284.48 430.56M281.60 426.60L286.26 425.09" stroke="#111" stroke-width="2.1" stroke-linecap="butt" fill="none"/>
<path d="M105.26 459.05H408.98" stroke="#111" stroke-width="1.85" fill="none"/>
<path d="M256.80 450.40L256.80 445.50M256.80 450.40L252.14 448.89M256.80 450.40L253.92 454.36M256.80 450.40L259.68 454.36M256.80 450.40L261.46 448.89" stroke="#111" stroke-width="2.1" stroke-linecap="butt" fill="none"/>
<path d="M105.26 483.35H358.26" stroke="#111" stroke-width="1.85" fill="none"/>
<path d="M231.60 474.60L231.60 469.70M231.60 474.60L226.94 473.09M231.60 474.60L228.72 478.56M231.60 474.60L234.48 478.56M231.60 474.60L236.26 473.09" stroke="#111" stroke-width="2.1" stroke-linecap="butt" fill="none"/>
<path d="M105.26 526.95H206.10" stroke="#111" stroke-width="1.85" fill="none"/>
<path d="M155.20 518.40L155.20 513.50M155.20 518.40L150.54 516.89M155.20 518.40L152.32 522.36M155.20 518.40L158.08 522.36M155.20 518.40L159.86 516.89" stroke="#111" stroke-width="2.1" stroke-linecap="butt" fill="none"/>
<text transform="translate(14.60 609.90) rotate(-90)" textLength="146.80" lengthAdjust="spacingAndGlyphs" font-family="Liberation Serif, serif" font-weight="bold" font-size="17.0" stroke="#111" stroke-width="0.5" stroke-linejoin="round">Ratio of Bax / β-actin</text>
<rect x="606.26" y="571.10" width="15.6" height="71.60" fill="#525252"/>
<rect x="656.58" y="582.20" width="15.6" height="60.50" fill="#525252"/>
<rect x="706.90" y="578.90" width="15.6" height="63.80" fill="#525252"/>
<rect x="757.22" y="568.40" width="15.6" height="74.30" fill="#525252"/>
<rect x="807.54" y="546.50" width="15.6" height="96.20" fill="#525252"/>
<rect x="857.86" y="520.80" width="15.6" height="121.90" fill="#525252"/>
<rect x="908.18" y="517.60" width="15.6" height="125.10" fill="#525252"/>
<rect x="958.50" y="487.80" width="15.6" height="154.90" fill="#525252"/>
<path d="M588.90 432.10V642.70H991.46" stroke="#1c1c1c" stroke-width="1.6" fill="none"/>
<text x="572.40" y="646.86" textLength="6.60" lengthAdjust="spacingAndGlyphs" font-family="Liberation Serif, serif" font-weight="bold" font-size="13.2">0</text>
<text x="562.50" y="623.53" textLength="16.50" lengthAdjust="spacingAndGlyphs" font-family="Liberation Serif, serif" font-weight="bold" font-size="13.2">0.2</text>
<text x="562.50" y="600.19" textLength="16.50" lengthAdjust="spacingAndGlyphs" font-family="Liberation Serif, serif" font-weight="bold" font-size="13.2">0.4</text>
<text x="562.50" y="576.86" textLength="16.50" lengthAdjust="spacingAndGlyphs" font-family="Liberation Serif, serif" font-weight="bold" font-size="13.2">0.6</text>
<text x="562.50" y="553.53" textLength="16.50" lengthAdjust="spacingAndGlyphs" font-family="Liberation Serif, serif" font-weight="bold" font-size="13.2">0.8</text>
<text x="572.40" y="530.19" textLength="6.60" lengthAdjust="spacingAndGlyphs" font-family="Liberation Serif, serif" font-weight="bold" font-size="13.2">1</text>
<text x="562.50" y="506.86" textLength="16.50" lengthAdjust="spacingAndGlyphs" font-family="Liberation Serif, serif" font-weight="bold" font-size="13.2">1.2</text>
<text x="562.50" y="483.53" textLength="16.50" lengthAdjust="spacingAndGlyphs" font-family="Liberation Serif, serif" font-weight="bold" font-size="13.2">1.4</text>
<text x="562.50" y="460.19" textLength="16.50" lengthAdjust="spacingAndGlyphs" font-family="Liberation Serif, serif" font-weight="bold" font-size="13.2">1.6</text>
<text x="562.50" y="436.86" textLength="16.50" lengthAdjust="spacingAndGlyphs" font-family="Liberation Serif, serif" font-weight="bold" font-size="13.2">1.8</text>
<path d="M588.90 642.70H593.30M588.90 619.37H593.30M588.90 596.03H593.30M588.90 572.70H593.30M588.90 549.37H593.30M588.90 526.03H593.30M588.90 502.70H593.30M588.90 479.37H593.30M588.90 456.03H593.30M588.90 432.70H593.30M639.22 642.70V638.70M689.54 642.70V638.70M739.86 642.70V638.70M790.18 642.70V638.70M840.50 642.70V638.70M890.82 642.70V638.70M941.14 642.70V638.70M991.46 642.70V638.70" stroke="#1c1c1c" stroke-width="1.4" fill="none"/>
<path d="M614.06 548.90V592.40M610.86 548.90H617.26M610.86 592.40H617.26M664.38 567.60V596.50M661.18 567.60H667.58M661.18 596.50H667.58M714.70 577.00V579.70M711.50 577.00H717.90M711.50 579.70H717.90M765.02 554.60V581.10M761.82 554.60H768.22M761.82 581.10H768.22M815.34 537.00V555.90M812.14 537.00H818.54M812.14 555.90H818.54M865.66 506.20V535.40M862.46 506.20H868.86M862.46 535.40H868.86M915.98 495.70V540.30M912.78 495.70H919.18M912.78 540.30H919.18M966.30 451.40V524.90M963.10 451.40H969.50M963.10 524.90H969.50" stroke="#111" stroke-width="1.45" fill="none"/>
<text x="591.85" y="661.60" textLength="44.42" lengthAdjust="spacingAndGlyphs" font-family="Liberation Serif, serif" font-weight="bold" font-size="13.6" stroke="#111" stroke-width="0.3" stroke-linejoin="round">Control</text>
<text x="652.34" y="661.60" textLength="24.07" lengthAdjust="spacingAndGlyphs" font-family="Liberation Serif, serif" font-weight="bold" font-size="13.6" stroke="#111" stroke-width="0.3" stroke-linejoin="round">0.5d</text>
<text x="707.66" y="661.60" textLength="14.07" lengthAdjust="spacingAndGlyphs" font-family="Liberation Serif, serif" font-weight="bold" font-size="13.6" stroke="#111" stroke-width="0.3" stroke-linejoin="round">1d</text>
<text x="757.98" y="661.60" textLength="14.07" lengthAdjust="spacingAndGlyphs" font-family="Liberation Serif, serif" font-weight="bold" font-size="13.6" stroke="#111" stroke-width="0.3" stroke-linejoin="round">2d</text>
<text x="808.30" y="661.60" textLength="14.07" lengthAdjust="spacingAndGlyphs" font-family="Liberation Serif, serif" font-weight="bold" font-size="13.6" stroke="#111" stroke-width="0.3" stroke-linejoin="round">3d</text>
<text x="858.62" y="661.60" textLength="14.07" lengthAdjust="spacingAndGlyphs" font-family="Liberation Serif, serif" font-weight="bold" font-size="13.6" stroke="#111" stroke-width="0.3" stroke-linejoin="round">4d</text>
<text x="908.94" y="661.60" textLength="14.07" lengthAdjust="spacingAndGlyphs" font-family="Liberation Serif, serif" font-weight="bold" font-size="13.6" stroke="#111" stroke-width="0.3" stroke-linejoin="round">5d</text>
<text x="959.26" y="661.60" textLength="14.07" lengthAdjust="spacingAndGlyphs" font-family="Liberation Serif, serif" font-weight="bold" font-size="13.6" stroke="#111" stroke-width="0.3" stroke-linejoin="round">7d</text>
<path d="M614.66 440.45H966.30" stroke="#111" stroke-width="1.85" fill="none"/>
<path d="M790.40 431.00L790.40 426.10M790.40 431.00L785.74 429.49M790.40 431.00L787.52 434.96M790.40 431.00L793.28 434.96M790.40 431.00L795.06 429.49" stroke="#111" stroke-width="2.1" stroke-linecap="butt" fill="none"/>
<path d="M614.66 473.65H915.98" stroke="#111" stroke-width="1.85" fill="none"/>
<path d="M765.30 463.40L765.30 458.50M765.30 463.40L760.64 461.89M765.30 463.40L762.42 467.36M765.30 463.40L768.18 467.36M765.30 463.40L769.96 461.89" stroke="#111" stroke-width="2.1" stroke-linecap="butt" fill="none"/>
<path d="M614.66 496.65H865.66" stroke="#111" stroke-width="1.85" fill="none"/>
<path d="M740.00 487.00L740.00 482.10M740.00 487.00L735.34 485.49M740.00 487.00L737.12 490.96M740.00 487.00L742.88 490.96M740.00 487.00L744.66 485.49" stroke="#111" stroke-width="2.1" stroke-linecap="butt" fill="none"/>
<text transform="translate(524.40 631.20) rotate(-90)" textLength="189.40" lengthAdjust="spacingAndGlyphs" font-family="Liberation Serif, serif" font-weight="bold" font-size="17.2" stroke="#111" stroke-width="0.5" stroke-linejoin="round">Ratio of Cleaved caspase 8</text>
<text transform="translate(545.20 566.90) rotate(-90)" textLength="57.60" lengthAdjust="spacingAndGlyphs" font-family="Liberation Serif, serif" font-weight="bold" font-size="17.0" stroke="#111" stroke-width="0.5" stroke-linejoin="round">/ β-actin</text>
<rect x="96.43" y="880.30" width="15.6" height="57.50" fill="#525252"/>
<rect x="146.49" y="898.10" width="15.6" height="39.70" fill="#525252"/>
<rect x="196.55" y="862.40" width="15.6" height="75.40" fill="#525252"/>
<rect x="246.61" y="837.80" width="15.6" height="100.00" fill="#525252"/>
<rect x="296.67" y="818.10" width="15.6" height="119.70" fill="#525252"/>
<rect x="346.73" y="795.70" width="15.6" height="142.10" fill="#525252"/>
<rect x="396.79" y="790.00" width="15.6" height="147.80" fill="#525252"/>
<rect x="446.85" y="774.00" width="15.6" height="163.80" fill="#525252"/>
<path d="M79.20 727.20V937.80H479.68" stroke="#1c1c1c" stroke-width="1.6" fill="none"/>
<text x="63.11" y="941.62" textLength="6.59" lengthAdjust="spacingAndGlyphs" font-family="Liberation Serif, serif" font-weight="bold" font-size="12.2">0</text>
<text x="53.23" y="915.37" textLength="16.47" lengthAdjust="spacingAndGlyphs" font-family="Liberation Serif, serif" font-weight="bold" font-size="12.2">0.2</text>
<text x="53.23" y="889.12" textLength="16.47" lengthAdjust="spacingAndGlyphs" font-family="Liberation Serif, serif" font-weight="bold" font-size="12.2">0.4</text>
<text x="53.23" y="862.87" textLength="16.47" lengthAdjust="spacingAndGlyphs" font-family="Liberation Serif, serif" font-weight="bold" font-size="12.2">0.6</text>
<text x="53.23" y="836.62" textLength="16.47" lengthAdjust="spacingAndGlyphs" font-family="Liberation Serif, serif" font-weight="bold" font-size="12.2">0.8</text>
<text x="63.11" y="810.37" textLength="6.59" lengthAdjust="spacingAndGlyphs" font-family="Liberation Serif, serif" font-weight="bold" font-size="12.2">1</text>
<text x="53.23" y="784.12" textLength="16.47" lengthAdjust="spacingAndGlyphs" font-family="Liberation Serif, serif" font-weight="bold" font-size="12.2">1.2</text>
<text x="53.23" y="757.87" textLength="16.47" lengthAdjust="spacingAndGlyphs" font-family="Liberation Serif, serif" font-weight="bold" font-size="12.2">1.4</text>
<text x="53.23" y="731.62" textLength="16.47" lengthAdjust="spacingAndGlyphs" font-family="Liberation Serif, serif" font-weight="bold" font-size="12.2">1.6</text>
<path d="M79.20 937.80H83.60M79.20 911.55H83.60M79.20 885.30H83.60M79.20 859.05H83.60M79.20 832.80H83.60M79.20 806.55H83.60M79.20 780.30H83.60M79.20 754.05H83.60M79.20 727.80H83.60M129.26 937.80V933.80M179.32 937.80V933.80M229.38 937.80V933.80M279.44 937.80V933.80M329.50 937.80V933.80M379.56 937.80V933.80M429.62 937.80V933.80M479.68 937.80V933.80" stroke="#1c1c1c" stroke-width="1.4" fill="none"/>
<path d="M104.23 867.00V891.90M101.03 867.00H107.43M101.03 891.90H107.43M154.29 887.00V908.10M151.09 887.00H157.49M151.09 908.10H157.49M204.35 853.50V871.60M201.15 853.50H207.55M201.15 871.60H207.55M254.41 831.60V843.50M251.21 831.60H257.61M251.21 843.50H257.61M304.47 811.40V824.90M301.27 811.40H307.67M301.27 824.90H307.67M354.53 778.40V812.40M351.33 778.40H357.73M351.33 812.40H357.73M404.59 765.40V814.00M401.39 765.40H407.79M401.39 814.00H407.79M454.65 748.60V798.60M451.45 748.60H457.85M451.45 798.60H457.85" stroke="#111" stroke-width="1.45" fill="none"/>
<text x="79.63" y="958.80" textLength="49.20" lengthAdjust="spacingAndGlyphs" font-family="Liberation Serif, serif" font-weight="bold" font-size="12.2" stroke="#111" stroke-width="0.3" stroke-linejoin="round">Control</text>
<text x="140.96" y="958.80" textLength="26.66" lengthAdjust="spacingAndGlyphs" font-family="Liberation Serif, serif" font-weight="bold" font-size="12.2" stroke="#111" stroke-width="0.3" stroke-linejoin="round">0.5d</text>
<text x="196.56" y="958.80" textLength="15.59" lengthAdjust="spacingAndGlyphs" font-family="Liberation Serif, serif" font-weight="bold" font-size="12.2" stroke="#111" stroke-width="0.3" stroke-linejoin="round">1d</text>
<text x="246.62" y="958.80" textLength="15.59" lengthAdjust="spacingAndGlyphs" font-family="Liberation Serif, serif" font-weight="bold" font-size="12.2" stroke="#111" stroke-width="0.3" stroke-linejoin="round">2d</text>
<text x="296.68" y="958.80" textLength="15.59" lengthAdjust="spacingAndGlyphs" font-family="Liberation Serif, serif" font-weight="bold" font-size="12.2" stroke="#111" stroke-width="0.3" stroke-linejoin="round">3d</text>
<text x="346.74" y="958.80" textLength="15.59" lengthAdjust="spacingAndGlyphs" font-family="Liberation Serif, serif" font-weight="bold" font-size="12.2" stroke="#111" stroke-width="0.3" stroke-linejoin="round">4d</text>
<text x="396.80" y="958.80" textLength="15.59" lengthAdjust="spacingAndGlyphs" font-family="Liberation Serif, serif" font-weight="bold" font-size="12.2" stroke="#111" stroke-width="0.3" stroke-linejoin="round">5d</text>
<text x="446.86" y="958.80" textLength="15.59" lengthAdjust="spacingAndGlyphs" font-family="Liberation Serif, serif" font-weight="bold" font-size="12.2" stroke="#111" stroke-width="0.3" stroke-linejoin="round">7d</text>
<path d="M104.83 728.25H454.65" stroke="#111" stroke-width="1.85" fill="none"/>
<path d="M279.70 719.50L279.70 714.60M279.70 719.50L275.04 717.99M279.70 719.50L276.82 723.46M279.70 719.50L282.58 723.46M279.70 719.50L284.36 717.99" stroke="#111" stroke-width="2.1" stroke-linecap="butt" fill="none"/>
<path d="M104.83 749.85H404.59" stroke="#111" stroke-width="1.85" fill="none"/>
<path d="M254.90 741.90L254.90 737.00M254.90 741.90L250.24 740.39M254.90 741.90L252.02 745.86M254.90 741.90L257.78 745.86M254.90 741.90L259.56 740.39" stroke="#111" stroke-width="2.1" stroke-linecap="butt" fill="none"/>
<path d="M104.83 773.35H354.53" stroke="#111" stroke-width="1.85" fill="none"/>
<path d="M229.70 764.30L229.70 759.40M229.70 764.30L225.04 762.79M229.70 764.30L226.82 768.26M229.70 764.30L232.58 768.26M229.70 764.30L234.36 762.79" stroke="#111" stroke-width="2.1" stroke-linecap="butt" fill="none"/>
<path d="M104.83 796.05H304.47" stroke="#111" stroke-width="1.85" fill="none"/>
<path d="M204.60 787.60L204.60 782.70M204.60 787.60L199.94 786.09M204.60 787.60L201.72 791.56M204.60 787.60L207.48 791.56M204.60 787.60L209.26 786.09" stroke="#111" stroke-width="2.1" stroke-linecap="butt" fill="none"/>
<path d="M104.83 822.35H254.41" stroke="#111" stroke-width="1.85" fill="none"/>
<path d="M179.70 814.60L179.70 809.70M179.70 814.60L175.04 813.09M179.70 814.60L176.82 818.56M179.70 814.60L182.58 818.56M179.70 814.60L184.36 813.09" stroke="#111" stroke-width="2.1" stroke-linecap="butt" fill="none"/>
<text transform="translate(14.20 909.00) rotate(-90)" textLength="167.60" lengthAdjust="spacingAndGlyphs" font-family="Liberation Serif, serif" font-weight="bold" font-size="17.6" stroke="#111" stroke-width="0.5" stroke-linejoin="round">Ratio of Cleaved caspase 3</text>
<text transform="translate(32.40 856.80) rotate(-90)" textLength="58.20" lengthAdjust="spacingAndGlyphs" font-family="Liberation Serif, serif" font-weight="bold" font-size="17.4" stroke="#111" stroke-width="0.5" stroke-linejoin="round">/ β-actin</text>
<rect x="606.11" y="886.20" width="15.6" height="52.00" fill="#525252"/>
<rect x="656.13" y="890.50" width="15.6" height="47.70" fill="#525252"/>
<rect x="706.15" y="864.10" width="15.6" height="74.10" fill="#525252"/>
<rect x="756.17" y="840.80" width="15.6" height="97.40" fill="#525252"/>
<rect x="806.19" y="830.80" width="15.6" height="107.40" fill="#525252"/>
<rect x="856.21" y="820.80" width="15.6" height="117.40" fill="#525252"/>
<rect x="906.23" y="814.10" width="15.6" height="124.10" fill="#525252"/>
<rect x="956.25" y="791.90" width="15.6" height="146.30" fill="#525252"/>
<path d="M588.90 754.80V938.20H989.06" stroke="#1c1c1c" stroke-width="1.6" fill="none"/>
<text x="572.40" y="942.36" textLength="6.60" lengthAdjust="spacingAndGlyphs" font-family="Liberation Serif, serif" font-weight="bold" font-size="13.2">0</text>
<text x="562.50" y="922.05" textLength="16.50" lengthAdjust="spacingAndGlyphs" font-family="Liberation Serif, serif" font-weight="bold" font-size="13.2">0.2</text>
<text x="562.50" y="901.74" textLength="16.50" lengthAdjust="spacingAndGlyphs" font-family="Liberation Serif, serif" font-weight="bold" font-size="13.2">0.4</text>
<text x="562.50" y="881.43" textLength="16.50" lengthAdjust="spacingAndGlyphs" font-family="Liberation Serif, serif" font-weight="bold" font-size="13.2">0.6</text>
<text x="562.50" y="861.12" textLength="16.50" lengthAdjust="spacingAndGlyphs" font-family="Liberation Serif, serif" font-weight="bold" font-size="13.2">0.8</text>
<text x="572.40" y="840.81" textLength="6.60" lengthAdjust="spacingAndGlyphs" font-family="Liberation Serif, serif" font-weight="bold" font-size="13.2">1</text>
<text x="562.50" y="820.49" textLength="16.50" lengthAdjust="spacingAndGlyphs" font-family="Liberation Serif, serif" font-weight="bold" font-size="13.2">1.2</text>
<text x="562.50" y="800.18" textLength="16.50" lengthAdjust="spacingAndGlyphs" font-family="Liberation Serif, serif" font-weight="bold" font-size="13.2">1.4</text>
<text x="562.50" y="779.87" textLength="16.50" lengthAdjust="spacingAndGlyphs" font-family="Liberation Serif, serif" font-weight="bold" font-size="13.2">1.6</text>
<text x="562.50" y="759.56" textLength="16.50" lengthAdjust="spacingAndGlyphs" font-family="Liberation Serif, serif" font-weight="bold" font-size="13.2">1.8</text>
<path d="M588.90 938.20H593.30M588.90 917.89H593.30M588.90 897.58H593.30M588.90 877.27H593.30M588.90 856.96H593.30M588.90 836.64H593.30M588.90 816.33H593.30M588.90 796.02H593.30M588.90 775.71H593.30M588.90 755.40H593.30M638.92 938.20V934.20M688.94 938.20V934.20M738.96 938.20V934.20M788.98 938.20V934.20M839.00 938.20V934.20M889.02 938.20V934.20M939.04 938.20V934.20M989.06 938.20V934.20" stroke="#1c1c1c" stroke-width="1.4" fill="none"/>
<path d="M613.91 871.90V899.20M610.71 871.90H617.11M610.71 899.20H617.11M663.93 886.50V894.60M660.73 886.50H667.13M660.73 894.60H667.13M713.95 861.90V865.70M710.75 861.90H717.15M710.75 865.70H717.15M763.97 837.80V844.30M760.77 837.80H767.17M760.77 844.30H767.17M813.99 824.30V835.90M810.79 824.30H817.19M810.79 835.90H817.19M864.01 816.80V824.30M860.81 816.80H867.21M860.81 824.30H867.21M914.03 806.80V820.30M910.83 806.80H917.23M910.83 820.30H917.23M964.05 782.20V802.20M960.85 782.20H967.25M960.85 802.20H967.25" stroke="#111" stroke-width="1.45" fill="none"/>
<text x="588.91" y="959.00" textLength="50.00" lengthAdjust="spacingAndGlyphs" font-family="Liberation Serif, serif" font-weight="bold" font-size="15.0" stroke="#111" stroke-width="0.3" stroke-linejoin="round">Control</text>
<text x="650.38" y="959.00" textLength="27.09" lengthAdjust="spacingAndGlyphs" font-family="Liberation Serif, serif" font-weight="bold" font-size="15.0" stroke="#111" stroke-width="0.3" stroke-linejoin="round">0.5d</text>
<text x="706.03" y="959.00" textLength="15.84" lengthAdjust="spacingAndGlyphs" font-family="Liberation Serif, serif" font-weight="bold" font-size="15.0" stroke="#111" stroke-width="0.3" stroke-linejoin="round">1d</text>
<text x="756.05" y="959.00" textLength="15.84" lengthAdjust="spacingAndGlyphs" font-family="Liberation Serif, serif" font-weight="bold" font-size="15.0" stroke="#111" stroke-width="0.3" stroke-linejoin="round">2d</text>
<text x="806.07" y="959.00" textLength="15.84" lengthAdjust="spacingAndGlyphs" font-family="Liberation Serif, serif" font-weight="bold" font-size="15.0" stroke="#111" stroke-width="0.3" stroke-linejoin="round">3d</text>
<text x="856.09" y="959.00" textLength="15.84" lengthAdjust="spacingAndGlyphs" font-family="Liberation Serif, serif" font-weight="bold" font-size="15.0" stroke="#111" stroke-width="0.3" stroke-linejoin="round">4d</text>
<text x="906.11" y="959.00" textLength="15.84" lengthAdjust="spacingAndGlyphs" font-family="Liberation Serif, serif" font-weight="bold" font-size="15.0" stroke="#111" stroke-width="0.3" stroke-linejoin="round">5d</text>
<text x="956.13" y="959.00" textLength="15.84" lengthAdjust="spacingAndGlyphs" font-family="Liberation Serif, serif" font-weight="bold" font-size="15.0" stroke="#111" stroke-width="0.3" stroke-linejoin="round">7d</text>
<path d="M614.51 747.45H964.05" stroke="#111" stroke-width="1.85" fill="none"/>
<path d="M788.30 737.80L788.30 732.90M788.30 737.80L783.64 736.29M788.30 737.80L785.42 741.76M788.30 737.80L791.18 741.76M788.30 737.80L792.96 736.29" stroke="#111" stroke-width="2.1" stroke-linecap="butt" fill="none"/>
<path d="M614.51 767.45H914.03" stroke="#111" stroke-width="1.85" fill="none"/>
<path d="M763.40 757.40L763.40 752.50M763.40 757.40L758.74 755.89M763.40 757.40L760.52 761.36M763.40 757.40L766.28 761.36M763.40 757.40L768.06 755.89" stroke="#111" stroke-width="2.1" stroke-linecap="butt" fill="none"/>
<path d="M614.51 786.95H864.01" stroke="#111" stroke-width="1.85" fill="none"/>
<path d="M738.50 778.40L738.50 773.50M738.50 778.40L733.84 776.89M738.50 778.40L735.62 782.36M738.50 778.40L741.38 782.36M738.50 778.40L743.16 776.89" stroke="#111" stroke-width="2.1" stroke-linecap="butt" fill="none"/>
<path d="M614.51 808.25H813.99" stroke="#111" stroke-width="1.85" fill="none"/>
<path d="M713.90 799.70L713.90 794.80M713.90 799.70L709.24 798.19M713.90 799.70L711.02 803.66M713.90 799.70L716.78 803.66M713.90 799.70L718.56 798.19" stroke="#111" stroke-width="2.1" stroke-linecap="butt" fill="none"/>
<path d="M614.51 830.45H763.97" stroke="#111" stroke-width="1.85" fill="none"/>
<path d="M688.70 820.50L688.70 815.60M688.70 820.50L684.04 818.99M688.70 820.50L685.82 824.46M688.70 820.50L691.58 824.46M688.70 820.50L693.36 818.99" stroke="#111" stroke-width="2.1" stroke-linecap="butt" fill="none"/>
<path d="M614.51 853.15H713.95" stroke="#111" stroke-width="1.85" fill="none"/>
<path d="M664.10 844.90L664.10 840.00M664.10 844.90L659.44 843.39M664.10 844.90L661.22 848.86M664.10 844.90L666.98 848.86M664.10 844.90L668.76 843.39" stroke="#111" stroke-width="2.1" stroke-linecap="butt" fill="none"/>
<text transform="translate(525.20 928.15) rotate(-90)" textLength="172.30" lengthAdjust="spacingAndGlyphs" font-family="Liberation Serif, serif" font-weight="bold" font-size="17.2" stroke="#111" stroke-width="0.5" stroke-linejoin="round">Ratio of Cleaved PARP-1</text>
<text transform="translate(545.00 870.25) rotate(-90)" textLength="56.70" lengthAdjust="spacingAndGlyphs" font-family="Liberation Serif, serif" font-weight="bold" font-size="17.0" stroke="#111" stroke-width="0.5" stroke-linejoin="round">/ β-actin</text>
</g></svg></body></html>
